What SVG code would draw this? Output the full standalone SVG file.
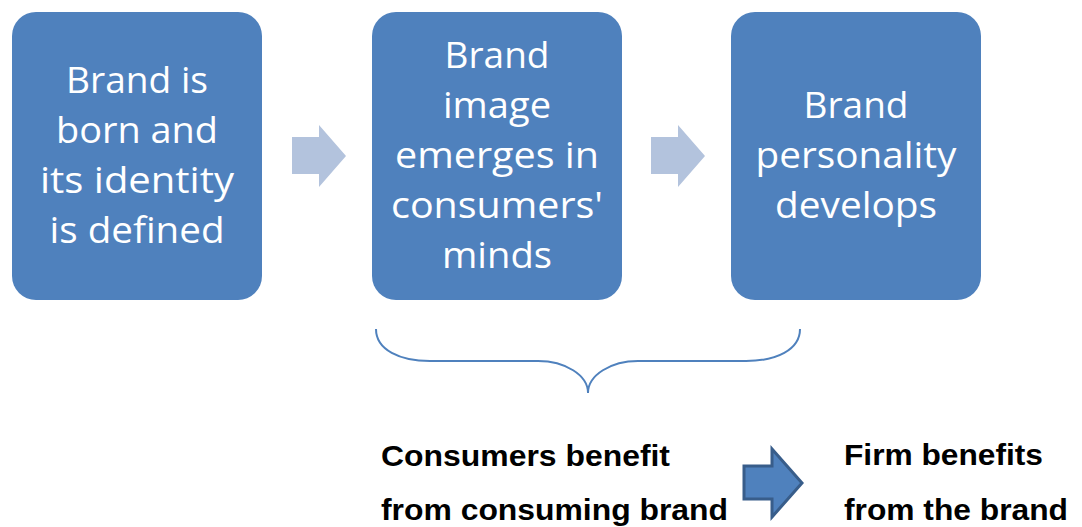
<svg xmlns="http://www.w3.org/2000/svg" width="1082" height="527" viewBox="0 0 1082 527">
<style>
.box{fill:#4F81BD;}
.bt{font-family:"Open Sans","Noto Sans",sans-serif;font-size:36px;fill:#FFFFFF;text-anchor:middle;}
.lt{font-family:"Liberation Sans",Arial,sans-serif;font-size:30px;font-weight:bold;fill:#000000;}
.harrow{fill:#B3C3DD;}
</style>
<rect width="1082" height="527" fill="#FFFFFF"/>
<g id="node1">
<rect class="box" x="12" y="12" width="250" height="288" rx="24"/>
<text class="bt" x="137" y="93" textLength="142" lengthAdjust="spacingAndGlyphs">Brand is</text>
<text class="bt" x="137" y="143" textLength="162" lengthAdjust="spacingAndGlyphs">born and</text>
<text class="bt" x="137" y="193" textLength="194" lengthAdjust="spacingAndGlyphs">its identity</text>
<text class="bt" x="137" y="243" textLength="175" lengthAdjust="spacingAndGlyphs">is defined</text>
</g>
<g id="node2">
<rect class="box" x="372" y="12" width="250" height="288" rx="24"/>
<text class="bt" x="497" y="68" textLength="105" lengthAdjust="spacingAndGlyphs">Brand</text>
<text class="bt" x="497" y="118" textLength="108" lengthAdjust="spacingAndGlyphs">image</text>
<text class="bt" x="497" y="168" textLength="204" lengthAdjust="spacingAndGlyphs">emerges in</text>
<text class="bt" x="497" y="218" textLength="212" lengthAdjust="spacingAndGlyphs">consumers'</text>
<text class="bt" x="497" y="268" textLength="110" lengthAdjust="spacingAndGlyphs">minds</text>
</g>
<g id="node3">
<rect class="box" x="731" y="12" width="250" height="288" rx="24"/>
<text class="bt" x="856" y="118" textLength="105" lengthAdjust="spacingAndGlyphs">Brand</text>
<text class="bt" x="856" y="168" textLength="201" lengthAdjust="spacingAndGlyphs">personality</text>
<text class="bt" x="856" y="218" textLength="162" lengthAdjust="spacingAndGlyphs">develops</text>
</g>
<g id="connectors">
<polygon class="harrow" points="292,137 319,137 319,125 346,156 319,187 319,174 292,174"/>
<polygon class="harrow" points="651,137 678,137 678,125 705,156 678,187 678,174 651,174"/>
<path d="M376,329 C376,350 400,361 430,361 L538,361 C565,361 588,375 588,393 C588,375 611,361 638,361 L746,361 C776,361 800,350 800,329" fill="none" stroke="#4F81BD" stroke-width="2"/>
<polygon points="744,466 772,466 772,449 802,483 772,517 772,499 744,499" fill="#4F81BD" stroke="#385D8A" stroke-width="3" stroke-linejoin="miter"/>
</g>
<g id="node4">
<text class="lt" x="381" y="466" textLength="289" lengthAdjust="spacingAndGlyphs">Consumers benefit</text>
<text class="lt" x="381" y="520" textLength="347" lengthAdjust="spacingAndGlyphs">from consuming brand</text>
</g>
<g id="node5">
<text class="lt" x="844" y="465" textLength="199" lengthAdjust="spacingAndGlyphs">Firm benefits</text>
<text class="lt" x="844" y="520" textLength="224" lengthAdjust="spacingAndGlyphs">from the brand</text>
</g>
</svg>
